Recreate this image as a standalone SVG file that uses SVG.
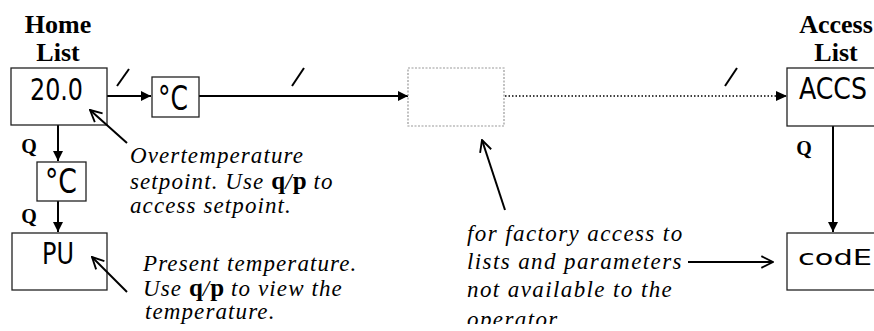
<svg xmlns="http://www.w3.org/2000/svg" width="874" height="331" viewBox="0 0 874 331">
<defs>
<style>
.box{fill:#fff;stroke:#222;stroke-width:1.3}
.dbox{fill:#fff;stroke:#999;stroke-width:1.2;stroke-dasharray:2 1.5}
.disp{font-family:"Liberation Sans Narrow","DejaVu Sans Condensed","Liberation Sans",sans-serif;fill:#000}
.title{font-family:"Liberation Serif","Times New Roman",serif;font-weight:bold;font-size:26px;fill:#000}
.q{font-family:"Liberation Serif","Times New Roman",serif;font-weight:bold;font-size:20px;fill:#000}
.note{font-family:"Liberation Serif","Times New Roman",serif;font-style:italic;font-size:23px;fill:#000;letter-spacing:1.1px}
.wide{letter-spacing:1.4px}
.key{font-style:normal;font-weight:bold;font-size:25px;letter-spacing:0}
.conn{stroke:#000;stroke-width:2;fill:none}
.dot{stroke:#000;stroke-width:1.5;fill:none;stroke-dasharray:1.5 2}
.ann{stroke:#000;stroke-width:2;fill:none}
</style>
<marker id="ah" viewBox="0 0 10 10" refX="10" refY="5" markerWidth="5" markerHeight="5" orient="auto" markerUnits="strokeWidth">
<path d="M0,0 L10,5 L0,10 z" fill="#000"/>
</marker>
<marker id="open" viewBox="0 0 12 12" refX="11" refY="6" markerWidth="7" markerHeight="7" orient="auto" markerUnits="strokeWidth">
<path d="M1,1 L11,6 L1,11" fill="none" stroke="#000" stroke-width="1.6"/>
</marker>
<clipPath id="cut"><rect x="0" y="0" width="874" height="324"/></clipPath>
</defs>

<g id="titles">
<text class="title" x="58" y="33" text-anchor="middle">Home</text>
<text class="title" x="58" y="61" text-anchor="middle">List</text>
<text class="title" x="836" y="33" text-anchor="middle">Access</text>
<text class="title" x="836" y="61" text-anchor="middle">List</text>
</g>

<g id="connectors">
<line class="conn" x1="107" y1="96" x2="151" y2="96" marker-end="url(#ah)"/>
<line class="conn" x1="199" y1="96" x2="408" y2="96" marker-end="url(#ah)"/>
<line class="dot" x1="505" y1="96" x2="786" y2="96"/>
<path d="M776,91 L787,96 L776,101 z" fill="#000"/>
<line class="conn" x1="58" y1="125" x2="58" y2="161" marker-end="url(#ah)"/>
<line class="conn" x1="58" y1="201" x2="58" y2="232" marker-end="url(#ah)"/>
<line class="conn" x1="833" y1="126" x2="833" y2="232" marker-end="url(#ah)"/>
<line class="conn" x1="117" y1="86" x2="129" y2="69"/>
<line class="conn" x1="292" y1="86" x2="304" y2="68"/>
<line class="conn" x1="725" y1="86" x2="737" y2="68"/>
<text class="q" x="29" y="153" text-anchor="middle">Q</text>
<text class="q" x="29" y="223" text-anchor="middle">Q</text>
<text class="q" x="804" y="155" text-anchor="middle">Q</text>
</g>

<g id="node-home">
<rect class="box" x="11" y="68" width="96" height="57"/>
<text class="disp" x="30" y="100" font-size="31" textLength="53" lengthAdjust="spacingAndGlyphs">20.0</text>
</g>
<g id="node-unit1">
<rect class="box" x="152" y="77" width="47" height="40"/>
<text class="disp" x="158" y="110" font-size="34" textLength="30" lengthAdjust="spacingAndGlyphs">°C</text>
</g>
<g id="node-factory">
<rect class="dbox" x="408" y="68" width="96" height="58"/>
</g>
<g id="node-accs">
<rect class="box" x="787" y="68" width="95" height="58"/>
<text class="disp" x="799" y="99" font-size="30" textLength="68" lengthAdjust="spacingAndGlyphs">ACCS</text>
</g>
<g id="node-unit2">
<rect class="box" x="37" y="162" width="49" height="39"/>
<text class="disp" x="45" y="193" font-size="34" textLength="32" lengthAdjust="spacingAndGlyphs">°C</text>
</g>
<g id="node-pv">
<rect class="box" x="12" y="233" width="95" height="57"/>
<text class="disp" x="42" y="264" font-size="30" textLength="32" lengthAdjust="spacingAndGlyphs">PU</text>
</g>
<g id="node-code">
<rect class="box" x="787" y="233" width="95" height="57"/>
<text class="disp" x="798" y="265" font-size="22" textLength="74" lengthAdjust="spacingAndGlyphs">codE</text>
</g>

<g id="annotations">
<line class="ann" x1="127" y1="143" x2="90" y2="110" marker-end="url(#open)"/>
<line class="ann" x1="127" y1="292" x2="92" y2="257" marker-end="url(#open)"/>
<line class="ann" x1="505" y1="210" x2="482" y2="140" marker-end="url(#open)"/>
<line class="ann" x1="688" y1="262" x2="773" y2="262" marker-end="url(#open)"/>
<text class="note" x="130" y="163">Overtemperature</text>
<text class="note" x="130" y="189">setpoint. Use <tspan class="key">q</tspan>/<tspan class="key">p</tspan> to</text>
<text class="note" x="130" y="213">access setpoint.</text>
<text class="note" x="143" y="271">Present temperature.</text>
<text class="note" x="143" y="296">Use <tspan class="key">q</tspan>/<tspan class="key">p</tspan> to view the</text>
<text class="note" x="145" y="319">temperature.</text>
<text class="note wide" x="467" y="241">for factory access to</text>
<text class="note wide" x="467" y="269">lists and parameters</text>
<text class="note wide" x="467" y="297">not available to the</text>
<text class="note wide" x="467" y="327" clip-path="url(#cut)">operator</text>
</g>
</svg>
